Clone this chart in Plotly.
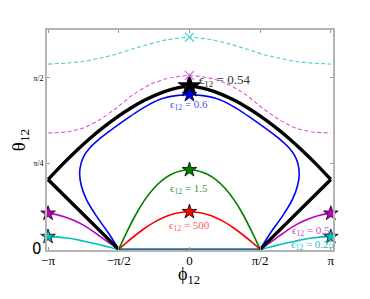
import numpy as np
import plotly.graph_objects as go

PI = np.pi

# ---------------- data ----------------
# black separatrix (eps12 = 0.54): upper arc and the two straight lower legs
black_arc_phi = [-3.1416, -2.8, -2.5, -2.2, -1.9, -1.6, -1.3, -1.0, -0.7, -0.4, -0.15, 0.0,
                 0.15, 0.4, 0.7, 1.0, 1.3, 1.6, 1.9, 2.2, 2.5, 2.8, 3.1416]
black_arc_theta = [0.639, 0.787, 0.908, 1.020, 1.121, 1.213, 1.294, 1.364, 1.421, 1.464,
                   1.487, 1.492,
                   1.487, 1.464, 1.421, 1.364, 1.294, 1.213, 1.121, 1.020, 0.908, 0.787,
                   0.639]
black_legL_phi = [-1.5708, -2.356, -3.1416]
black_legL_theta = [0.0, 0.320, 0.639]
black_legR_phi = [1.5708, 2.356, 3.1416]
black_legR_theta = [0.0, 0.320, 0.639]

# blue orbit (eps12 = 0.6)
blue_phi = [-1.571, -1.80, -2.067, -2.29, -2.40, -2.44, -2.41, -2.33, -2.20, -2.03,
            -1.80, -1.50, -1.20, -0.90, -0.60, -0.30, 0.0,
            0.30, 0.60, 0.90, 1.20, 1.50, 1.80, 2.03, 2.20, 2.33, 2.41, 2.44,
            2.40, 2.29, 2.067, 1.80, 1.571]
blue_theta = [0.0, 0.150, 0.304, 0.457, 0.580, 0.690, 0.785, 0.865, 0.935, 1.000,
              1.075, 1.165, 1.250, 1.325, 1.380, 1.407, 1.415,
              1.407, 1.380, 1.325, 1.250, 1.165, 1.075, 1.000, 0.935, 0.865, 0.785,
              0.690, 0.580, 0.457, 0.304, 0.150, 0.0]

# green (eps12 = 1.5) and red (eps12 = 500)
mid_phi = [-1.5708, -1.4, -1.2, -1.0, -0.8, -0.6, -0.4, -0.2, 0.0,
           0.2, 0.4, 0.6, 0.8, 1.0, 1.2, 1.4, 1.5708]
green_theta = [0.0, 0.150, 0.312, 0.448, 0.555, 0.633, 0.687, 0.717, 0.728,
               0.717, 0.687, 0.633, 0.555, 0.448, 0.312, 0.150, 0.0]
red_theta = [0.0, 0.061, 0.129, 0.191, 0.245, 0.287, 0.318, 0.338, 0.344,
             0.338, 0.318, 0.287, 0.245, 0.191, 0.129, 0.061, 0.0]

# outer solid branches (eps12 = 0.5 magenta, eps12 = 0.25 cyan)
outL_phi = [-3.1416, -2.95, -2.733, -2.55, -2.364, -2.18, -1.993, -1.80, -1.5708]
outR_phi = [3.1416, 2.95, 2.733, 2.55, 2.364, 2.18, 1.993, 1.80, 1.5708]
mag_theta = [0.329, 0.318, 0.292, 0.262, 0.224, 0.176, 0.121, 0.064, 0.0]
cyan_theta = [0.116, 0.114, 0.104, 0.092, 0.076, 0.060, 0.042, 0.022, 0.0]

# dashed upper orbits
dash_phi = [-3.1416, -2.733, -2.363, -1.993, -1.622, -1.252, -0.881, -0.511, 0.0,
            0.511, 0.881, 1.252, 1.622, 1.993, 2.363, 2.733, 3.1416]
mag_dash_theta = [1.065, 1.075, 1.111, 1.187, 1.294, 1.416, 1.507, 1.562, 1.592,
                  1.562, 1.507, 1.416, 1.294, 1.187, 1.111, 1.075, 1.065]
cyan_dash_theta = [1.696, 1.705, 1.720, 1.750, 1.787, 1.836, 1.881, 1.918, 1.942,
                   1.918, 1.881, 1.836, 1.787, 1.750, 1.720, 1.705, 1.696]

# line along theta = 0
base_phi = [-1.5708, 1.5708]
base_theta = [0.0, 0.0]

# tick labels
x_tickvals = [-PI, -PI / 2, 0, PI / 2, PI]
x_ticktext = ["\u2212\u03c0", "\u2212\u03c0/2", "0", "\u03c0/2", "\u03c0"]
y_tickvals = [PI / 4, PI / 2]
y_ticktext = ["\u03c0/4", "\u03c0/2"]

labels = [
    ("\u03f5<sub>12</sub> = 0.54", 0.17, 1.545, "#333333", 13, "left"),
    ("\u03f5<sub>12</sub> = 0.6", 0.0, 1.318, "#4f4fff", 11, "center"),
    ("\u03f5<sub>12</sub> = 1.5", 0.0, 0.555, "#3a9a3a", 11, "center"),
    ("\u03f5<sub>12</sub> = 500", 0.0, 0.218, "#ff5a5a", 11, "center"),
    ("\u03f5<sub>12</sub> = 0.5", 2.70, 0.166, "#cc44cc", 11, "center"),
    ("\u03f5<sub>12</sub> = 0.25", 2.74, 0.036, "#22c4c4", 11, "center"),
]

# ---------------- figure ----------------
fig = go.Figure()

def line(x, y, color, width, dash="solid", shape="spline"):
    fig.add_trace(go.Scatter(x=x, y=y, mode="lines",
                             line=dict(color=color, width=width, dash=dash,
                                       shape=shape, smoothing=0.7),
                             hoverinfo="skip", showlegend=False))

line(dash_phi, cyan_dash_theta, "#3fd0d0", 1.1, dash="4px,2.5px")
line(dash_phi, mag_dash_theta, "#d955d9", 1.1, dash="4px,2.5px")
line(base_phi, base_theta, "#2b6a9b", 2.2, shape="linear")
line(outL_phi, cyan_theta, "#00bfbf", 1.6)
line(outR_phi, cyan_theta, "#00bfbf", 1.6)
line(outL_phi, mag_theta, "#bf00bf", 1.6)
line(outR_phi, mag_theta, "#bf00bf", 1.6)
line(mid_phi, red_theta, "#ff0000", 1.6)
line(mid_phi, green_theta, "#008000", 1.6)
line(blue_phi, blue_theta, "#0000ff", 1.6)
line(black_legL_phi, black_legL_theta, "#000000", 3.4, shape="linear")
line(black_legR_phi, black_legR_theta, "#000000", 3.4, shape="linear")
line(black_arc_phi, black_arc_theta, "#000000", 3.4)

# markers at peaks / ends
def stars(x, y, color, size, edge="#000000"):
    fig.add_trace(go.Scatter(x=x, y=y, mode="markers", cliponaxis=False,
                             marker=dict(symbol="star", size=size, color=color,
                                         line=dict(color=edge, width=0.8)),
                             hoverinfo="skip", showlegend=False))

stars([0.0], [black_arc_theta[11]], "#000000", 17)
stars([0.0], [blue_theta[16]], "#0000ff", 11)
stars([0.0], [green_theta[8]], "#008000", 11)
stars([0.0], [red_theta[8]], "#ff0000", 11)
stars([outL_phi[0], outR_phi[0]], [mag_theta[0], mag_theta[0]], "#bf00bf", 11)
stars([outL_phi[0], outR_phi[0]], [cyan_theta[0], cyan_theta[0]], "#00bfbf", 11)

for th, col in [(mag_dash_theta[8], "#e070e0"), (cyan_dash_theta[8], "#55d5d5")]:
    fig.add_trace(go.Scatter(x=[0.0], y=[th], mode="markers", cliponaxis=False,
                             marker=dict(symbol="x-thin", size=9,
                                         line=dict(color=col, width=1.3)),
                             hoverinfo="skip", showlegend=False))

for txt, x, y, col, sz, anc in labels:
    fig.add_annotation(x=x, y=y, text=txt, showarrow=False, xanchor=anc,
                       yanchor="middle",
                       font=dict(family="Liberation Serif", size=sz, color=col))

# the large "0" y tick label
fig.add_annotation(x=0, xref="paper", y=0, yref="y", text="0", showarrow=False,
                   xanchor="right", yanchor="middle", xshift=-3,
                   font=dict(family="DejaVu Sans", size=15, color="#000000"))

# x axis title placed just under the tick labels
fig.add_annotation(x=0, xref="x", y=-0.118, yref="paper", text="\u03d5<sub>12</sub>",
                   showarrow=False, xanchor="center", yanchor="middle",
                   font=dict(family="Liberation Serif", size=18, color="#000000"))

axis_common = dict(showgrid=False, zeroline=False, showline=True,
                   linecolor="#b4b4b4", linewidth=2, mirror="ticks",
                   ticks="inside", ticklen=3, tickcolor="#9a9a9a", tickwidth=1,
                   automargin=False)

fig.update_xaxes(range=[-3.165, 3.19], tickvals=x_tickvals, ticktext=x_ticktext,
                 tickfont=dict(family="Liberation Serif", size=13, color="#000"),
                 ticklabelstandoff=-3,
                 **axis_common)
fig.update_yaxes(range=[-0.006, 2.008], tickvals=y_tickvals, ticktext=y_ticktext,
                 tickfont=dict(family="Liberation Serif", size=8, color="#000"),
                 title=dict(text="\u03b8<sub>12</sub>", standoff=6,
                            font=dict(family="Liberation Serif", size=19, color="#000")),
                 **axis_common)

# page body has an 8px margin, so the figure is sized to fill the rest
fig.update_layout(width=362, height=291, margin=dict(l=39, r=37, t=22, b=49),
                  plot_bgcolor="white", paper_bgcolor="white")

fig.write_html("out.html")
